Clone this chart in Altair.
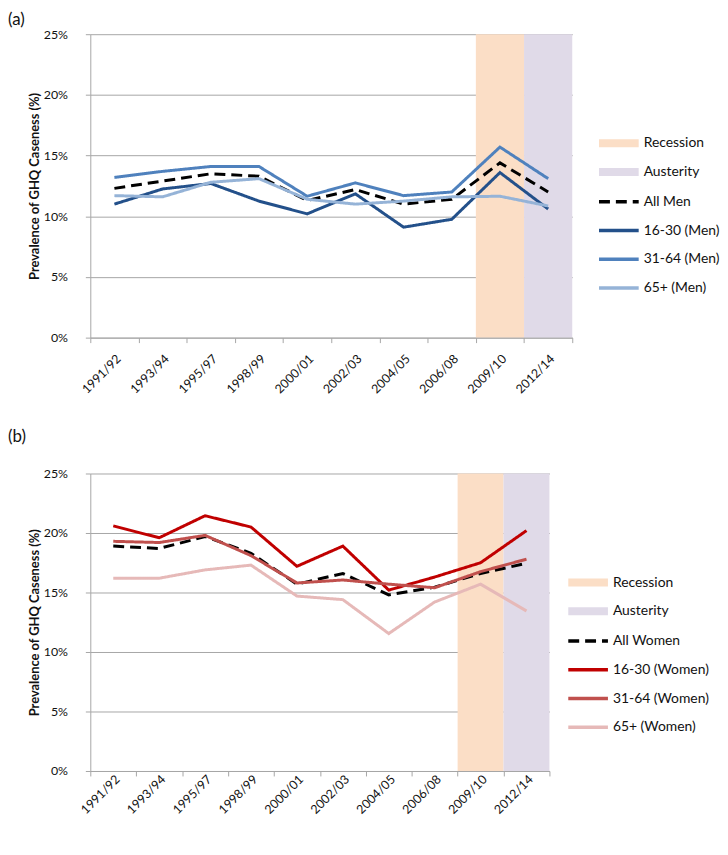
import altair as alt
import pandas as pd

periods = ["1991/92", "1993/94", "1995/97", "1998/99", "2000/01",
           "2002/03", "2004/05", "2006/08", "2009/10", "2012/14"]

phases = ["Recession", "Austerity"]
phase_periods = ["2009/10", "2012/14"]
phase_colors = ["#FBDEC6", "#E0DAE8"]

men_series = ["All Men", "16-30 (Men)", "31-64 (Men)", "65+ (Men)"]
men_all = [12.3, 12.9, 13.5, 13.3, 11.3, 12.2, 11.0, 11.4, 14.4, 12.0]
men_16_30 = [11.0, 12.25, 12.7, 11.25, 10.2, 11.85, 9.1, 9.75, 13.6, 10.6]
men_31_64 = [13.2, 13.7, 14.1, 14.1, 11.65, 12.75, 11.7, 12.0, 15.7, 13.1]
men_65 = [11.7, 11.6, 12.8, 13.1, 11.4, 11.0, 11.25, 11.6, 11.65, 10.85]
men_colors = ["#000000", "#23508A", "#4F81BD", "#95B3D7"]

women_series = ["All Women", "16-30 (Women)", "31-64 (Women)", "65+ (Women)"]
women_all = [18.9, 18.7, 19.7, 18.3, 15.7, 16.6, 14.8, 15.45, 16.6, 17.45]
women_16_30 = [20.6, 19.6, 21.45, 20.5, 17.2, 18.9, 15.2, 16.3, 17.5, 20.2]
women_31_64 = [19.3, 19.2, 19.8, 18.1, 15.8, 16.05, 15.7, 15.4, 16.75, 17.8]
women_65 = [16.2, 16.2, 16.9, 17.3, 14.7, 14.4, 11.55, 14.2, 15.7, 13.45]
women_colors = ["#000000", "#C00000", "#C0504D", "#E6B9B8"]

FONT = "Lato"
GRID = "#A6A6A6"
LINE_PATH = "M-4,0H4"
RECT_PATH = "M-4,-0.8H4V0.8H-4Z"


def panel(label, series, values, colors, width, height, leg_x, title_offset, xlab_pad):
    rows = []
    for name, vals in zip(series, values):
        for p, v in zip(periods, vals):
            rows.append({"period": p, "series": name, "value": v})
    df = pd.DataFrame(rows)
    shade = pd.DataFrame({"period": phase_periods, "phase": phases})

    xscale = alt.Scale(domain=periods, type="band", paddingInner=0, paddingOuter=0)
    xaxis = alt.Axis(title=None, labelAngle=-45, labelAlign="right", labelBaseline="middle",
                     tickBand="extent", grid=False, domainColor=GRID, tickColor=GRID,
                     tickSize=5, labelPadding=xlab_pad, labelOffset=4, labelFontSize=12.5,
                     labelColor="#111111", labelFont=FONT)
    yaxis = alt.Axis(values=[0, 5, 10, 15, 20, 25], labelExpr="datum.value + '%'",
                     title="Prevalence of GHQ Caseness (%)", titleFontWeight="bold",
                     titleFontSize=13, titleFont=FONT, titleColor="#111111", titlePadding=2,
                     grid=True, gridColor=GRID, domainColor=GRID, tickColor=GRID,
                     tickSize=5, labelPadding=18, labelFontSize=12.5, labelColor="#111111",
                     labelFont=FONT)

    rects = alt.Chart(shade).mark_rect().encode(
        x=alt.X("period:N", scale=xscale, axis=xaxis),
        fill=alt.Fill("phase:N", scale=alt.Scale(domain=phases, range=phase_colors),
                      legend=alt.Legend(title=None, orient="none", legendX=leg_x + 12, legendY=103,
                                        symbolType=RECT_PATH, symbolSize=100, symbolStrokeWidth=0,
                                        labelOffset=18, rowPadding=15, labelFontSize=14,
                                        labelFont=FONT, labelColor="#111111", symbolOpacity=1)),
    )

    leg = dict(title=None, orient="none", legendX=leg_x + 12, legendY=162,
               symbolType=LINE_PATH, symbolSize=100, symbolStrokeWidth=3.5,
               labelOffset=18, rowPadding=15, labelFontSize=14, labelFont=FONT,
               labelColor="#111111")
    lines = alt.Chart(df).mark_line(strokeWidth=3).encode(
        x=alt.X("period:N", scale=xscale, axis=xaxis, bandPosition=0.5),
        y=alt.Y("value:Q", scale=alt.Scale(domain=[0, 25], nice=False), axis=yaxis),
        stroke=alt.Stroke("series:N", scale=alt.Scale(domain=series, range=colors),
                          legend=alt.Legend(**leg)),
        strokeDash=alt.StrokeDash("series:N",
                                  scale=alt.Scale(domain=series,
                                                  range=[[11, 6], [1, 0], [1, 0], [1, 0]]),
                                  legend=alt.Legend(**leg)),
    )

    return alt.layer(rects, lines).properties(
        width=width, height=height,
        title=alt.TitleParams(label, anchor="start", frame="group", dx=-83, offset=title_offset,
                              fontSize=17, fontWeight="normal", font=FONT, color="#111111"),
    )


top = panel("(a)", men_series, [men_all, men_16_30, men_31_64, men_65], men_colors,
            486, 306, 514, -1, 14)
bottom = panel("(b)", women_series, [women_all, women_16_30, women_31_64, women_65],
               women_colors, 463, 300, 483, 22, 1)

chart = alt.vconcat(top, bottom, spacing=32).resolve_scale(
    x="independent", y="independent", stroke="independent",
    strokeDash="independent", fill="independent",
).properties(
    padding={"left": 0, "top": 0, "right": 0, "bottom": 0},
    background="white",
).configure_view(stroke=None)

chart.save("out.html", embed_options={"renderer": "svg", "actions": False})
